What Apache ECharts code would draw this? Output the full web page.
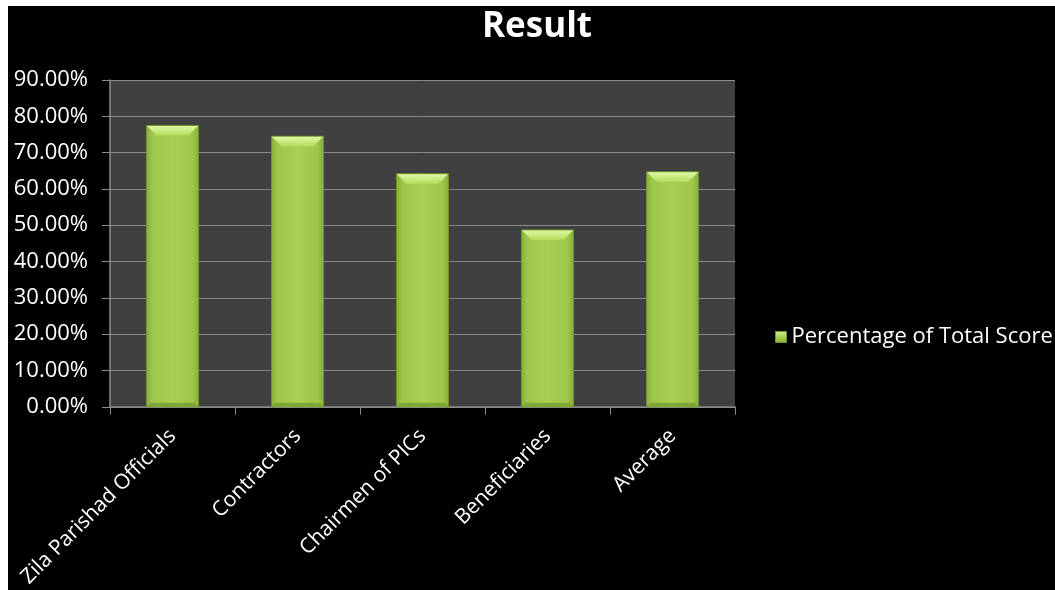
<!DOCTYPE html>
<html>
<head>
<meta charset="utf-8">
<script src="https://cdn.jsdelivr.net/npm/echarts@6/dist/echarts.min.js"></script>
<style>
html,body{margin:0;padding:0;background:#fff;width:1055px;height:590px;overflow:hidden;}
#c{position:absolute;left:8px;top:6px;width:1047px;height:584px;}
</style>
</head>
<body>
<div id="c"></div>
<script>
var titleText = 'Result';
var seriesName = 'Percentage of Total Score';
var categories = ['Zila Parishad Officials', 'Contractors', 'Chairmen of PICs', 'Beneficiaries', 'Average'];
var values = [0.775, 0.745, 0.642, 0.487, 0.647];
var yMin = 0, yMax = 0.9, yStep = 0.1;

var FONT = 'Open Sans';
var chart = echarts.init(document.getElementById('c'), null, {renderer: 'canvas'});

function renderBar(params, api) {
  var idx = api.value(0), v = api.value(1);
  var top = api.coord([idx, v]);
  var base = api.coord([idx, 0]);
  var bw = api.size([1, 0])[0] * 0.416;
  var x0 = top[0] - bw / 2, x1 = top[0] + bw / 2, y0 = top[1], y1 = base[1];
  var b = Math.min(10, (y1 - y0) / 2);
  var s = 4;
  return {
    type: 'group',
    children: [
      {type: 'rect', shape: {x: x0, y: y0, width: bw, height: y1 - y0},
        style: {fill: new echarts.graphic.LinearGradient(0, 0, 1, 0, [
          {offset: 0, color: '#86ad38'}, {offset: 0.12, color: '#9ec64b'},
          {offset: 0.5, color: '#a8d054'}, {offset: 0.88, color: '#9ec64b'}, {offset: 1, color: '#86ad38'}]),
          stroke: '#6f922a', lineWidth: 1}},
      {type: 'polygon', shape: {points: [[x0 + 0.5, y0 + 0.5], [x1 - 0.5, y0 + 0.5], [x1 - b, y0 + b], [x0 + b, y0 + b]]},
        style: {fill: new echarts.graphic.LinearGradient(0, 0, 0, 1, [
          {offset: 0, color: '#def8a6'}, {offset: 1, color: '#b5dc5e'}])}},
      {type: 'polygon', shape: {points: [[x0 + 0.5, y1], [x1 - 0.5, y1], [x1 - s, y1 - s], [x0 + s, y1 - s]]},
        style: {fill: '#82a636'}}
    ]
  };
}

var option = {
  backgroundColor: '#000',
  animation: false,
  title: {
    text: titleText, left: 524, top: -1, textAlign: 'center',
    textStyle: {color: '#fff', fontFamily: FONT, fontWeight: 'bold', fontSize: 35}
  },
  legend: {
    left: 762, top: 315, orient: 'vertical',
    itemWidth: 11, itemHeight: 11, itemGap: 8,
    textStyle: {color: '#fff', fontFamily: FONT, fontSize: 22},
    data: [{name: seriesName, icon: 'rect', itemStyle: {color: new echarts.graphic.LinearGradient(0, 0, 0, 1, [
      {offset: 0, color: '#d4f08e'}, {offset: 0.5, color: '#a8d054'}, {offset: 1, color: '#86ad38'}]), borderColor: '#6f922a', borderWidth: 1}}]
  },
  grid: {
    left: 102, top: 74, width: 625, height: 328,
    show: true, backgroundColor: '#404040', borderWidth: 0
  },
  xAxis: {
    type: 'category', data: categories,
    axisLine: {show: true, lineStyle: {color: '#8c8c8c', width: 1.5}},
    axisTick: {show: true, length: 8, lineStyle: {color: '#8c8c8c'}},
    axisLabel: {color: '#fff', fontFamily: FONT, fontSize: 21, rotate: 45, margin: 26, interval: 0}
  },
  yAxis: {
    type: 'value', min: yMin, max: yMax, interval: yStep,
    axisLine: {show: true, lineStyle: {color: '#8c8c8c', width: 1.5}},
    axisTick: {show: true, length: 8, lineStyle: {color: '#8c8c8c'}},
    splitLine: {show: true, lineStyle: {color: '#8a8a8a', width: 1}},
    axisLabel: {color: '#fff', fontFamily: FONT, fontSize: 22, margin: 22,
      formatter: function (v) { return (v * 100).toFixed(2) + '%'; }}
  },
  series: [{
    name: seriesName, type: 'custom',
    itemStyle: {color: '#a8d054'},
    encode: {x: 0, y: 1},
    data: values.map(function (v, i) { return [i, v]; }),
    renderItem: renderBar
  }]
};
chart.setOption(option);
</script>
</body>
</html>
